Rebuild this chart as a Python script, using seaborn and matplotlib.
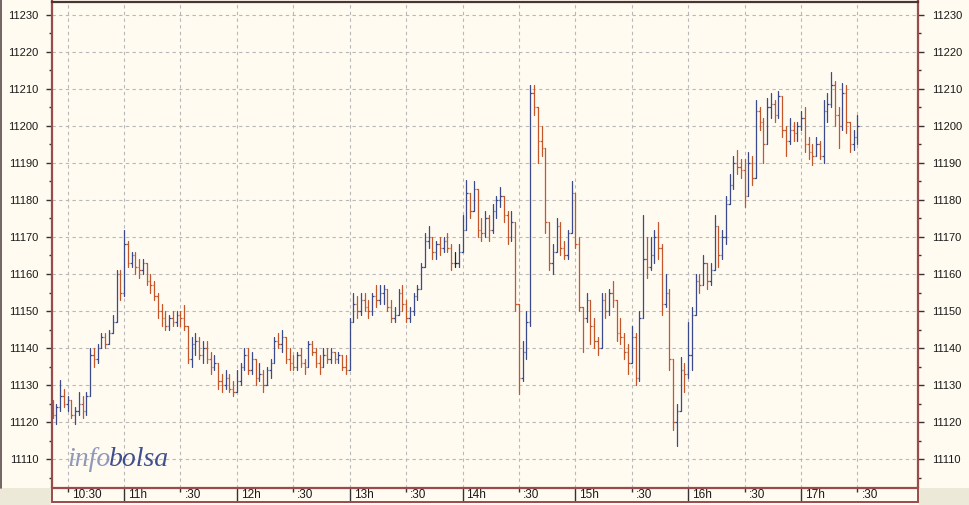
"""
Intraday OHLC bar chart (2-minute bars), infobolsa style.
Saves out.png at 970x505.
"""
import numpy as np
import pandas as pd
import matplotlib
matplotlib.use("Agg")
import matplotlib.pyplot as plt
import matplotlib.transforms as mtransforms
from matplotlib.patches import Rectangle
from matplotlib.lines import Line2D
from matplotlib.ticker import MultipleLocator, FixedLocator, FormatStrFormatter
import seaborn as sns

# --- data: 2-minute bars from 10:22 to 17:30, one row per half hour ---
first_open = 11125
bar_start_min = 22          # minutes after 10:00 of the first bar
bar_step_min = 2

highs = [
    11126, 11125, 11131.5, 11129,
    11127, 11126, 11124, 11128, 11127, 11128, 11140, 11140, 11141, 11144, 11144, 11145, 11149, 11161, 11161,
    11172, 11169, 11166, 11166, 11164, 11164, 11163, 11160, 11158, 11155, 11152, 11150, 11149, 11150, 11150,
    11150, 11151.5, 11146, 11143, 11144, 11143, 11142, 11142, 11139, 11138, 11136, 11133, 11134, 11133, 11131,
    11134, 11136, 11140, 11140, 11139, 11137, 11136, 11134, 11135, 11137, 11143, 11144, 11145, 11143, 11140,
    11138, 11139, 11140, 11137, 11142, 11142, 11140, 11138, 11140, 11140, 11140, 11139, 11139, 11138, 11138,
    11148, 11155, 11154, 11155, 11155, 11153, 11155, 11157, 11157, 11157, 11156, 11153, 11151, 11156, 11157,
    11153, 11151, 11155, 11157, 11163, 11171, 11173, 11170, 11169, 11170, 11170, 11171, 11168, 11166, 11168,
    11176, 11185.5, 11182, 11185, 11183, 11175, 11177, 11176, 11179, 11181, 11183.5, 11181, 11177, 11177, 11174,
    11152, 11142, 11150, 11211, 11211, 11205, 11200, 11194, 11174, 11168, 11175, 11174, 11169, 11172, 11185,
    11178, 11170, 11151, 11155, 11153, 11148, 11143, 11155, 11155, 11156, 11158, 11153, 11148, 11144, 11141,
    11146, 11144, 11150, 11176, 11170, 11170, 11172, 11174, 11168, 11160, 11156, 11137, 11125, 11137.5, 11136,
    11147, 11151, 11160, 11160, 11165, 11163, 11163, 11176, 11173, 11172, 11181, 11187, 11192, 11193.5, 11191,
    11191, 11193, 11192, 11207, 11205, 11202, 11207.5, 11209, 11207, 11209.5, 11208, 11200, 11202, 11201, 11201,
    11204, 11205, 11197, 11195, 11197, 11196, 11207, 11209, 11214.5, 11212, 11205, 11211.5, 11211, 11201, 11199,
    11203,
]
lows = [
    11121, 11119.5, 11123, 11124,
    11123, 11121, 11119.5, 11122, 11121, 11122, 11127, 11135, 11136, 11140, 11140, 11141, 11144, 11147, 11153,
    11154, 11162, 11162, 11160, 11159, 11160, 11157, 11155, 11153, 11148, 11146, 11145, 11145, 11146, 11146,
    11146, 11145, 11136, 11135, 11138, 11137, 11136, 11136, 11133, 11134, 11129, 11128, 11129, 11128, 11127,
    11128, 11130, 11134, 11133, 11133, 11130, 11131, 11128, 11130, 11132, 11136, 11140, 11139, 11136, 11134,
    11134, 11134, 11135, 11133, 11135, 11138, 11135, 11133, 11135, 11136, 11136, 11136, 11136, 11134, 11133,
    11134, 11147, 11148, 11149, 11150, 11148, 11149, 11151, 11152, 11152, 11150, 11147, 11147, 11149, 11150,
    11147, 11147, 11149, 11153, 11156, 11162, 11167, 11164, 11164, 11165, 11166, 11166, 11161, 11162, 11162,
    11166, 11172, 11175, 11177, 11170, 11169, 11170, 11169, 11171, 11175, 11178, 11174, 11168, 11169, 11150,
    11127.5, 11131, 11137, 11146, 11203, 11190, 11192, 11171, 11161, 11160, 11166, 11165, 11164, 11164, 11171,
    11167, 11150, 11139, 11147, 11141, 11140, 11138, 11140, 11148, 11149, 11151, 11142, 11141, 11137, 11133,
    11136, 11130, 11131, 11152, 11159, 11161, 11163, 11164, 11149, 11151, 11134, 11118, 11113.5, 11123, 11128,
    11132, 11134, 11150, 11155, 11157, 11156, 11157, 11161, 11162, 11164, 11168, 11179, 11183, 11187, 11186,
    11178, 11181, 11184, 11186, 11199, 11190, 11195, 11202, 11201, 11202, 11197, 11192, 11195, 11196, 11196,
    11199, 11193, 11191, 11189.5, 11192, 11191, 11190, 11201, 11205, 11200, 11194, 11199, 11198, 11193, 11193.5,
    11195,
]
closes = [
    11122, 11124, 11127, 11125,
    11126, 11122, 11123, 11125, 11123, 11127, 11138, 11137, 11140, 11143, 11141, 11144, 11147, 11160, 11155,
    11168, 11163, 11165, 11162, 11161, 11163, 11158, 11157, 11154, 11150, 11148, 11146, 11148, 11147, 11149,
    11148, 11146, 11137, 11141, 11142, 11138, 11140, 11137, 11135, 11136, 11131, 11130, 11132, 11129, 11128,
    11131, 11135, 11138, 11134, 11137, 11132, 11133, 11130, 11134, 11136, 11142, 11141, 11143, 11137, 11136,
    11135, 11138, 11136, 11135, 11141, 11139, 11136, 11135, 11138, 11137, 11139, 11137, 11138, 11135, 11134,
    11147, 11152, 11150, 11153, 11151, 11150, 11154, 11153, 11155, 11156, 11151, 11148, 11149, 11155, 11152,
    11148, 11150, 11154, 11156, 11162, 11169, 11170, 11166, 11168, 11167, 11169, 11167, 11163, 11163, 11166,
    11172, 11182, 11177, 11183, 11172, 11171, 11175, 11172, 11177, 11180, 11181, 11176, 11170, 11174, 11152,
    11132, 11139, 11147, 11209, 11205, 11196, 11194, 11174, 11163, 11166, 11173, 11167, 11165, 11171, 11182,
    11168, 11151, 11148, 11153, 11146, 11142, 11140, 11153, 11150, 11155, 11153, 11144, 11143, 11139, 11136,
    11143, 11132, 11148, 11164, 11162, 11165, 11170, 11167, 11152, 11155, 11137, 11120, 11123, 11134, 11133,
    11138, 11149, 11158, 11157, 11163, 11158, 11161, 11173, 11165, 11170, 11179, 11184, 11190, 11189, 11188,
    11181, 11190, 11186, 11204, 11201, 11195, 11205, 11206, 11203, 11208, 11199, 11196, 11199, 11198, 11200,
    11202, 11195, 11193, 11192, 11195, 11192, 11204, 11206, 11211, 11203, 11200, 11209, 11201, 11195, 11197,
    11200,
]

tick_labels = ["10:30", "11h", ":30", "12h", ":30", "13h", ":30", "14h", ":30",
               "15h", ":30", "16h", ":30", "17h", ":30"]

CREAM = "#FFFBF0"
PANEL_GRAY = "#ECE9D8"
FRAME = "#9A4B4B"
BLUE = "#3B4A8C"
ORANGE = "#C4562A"
BLACK = "#222222"
GRID = "#B8B8B8"


def main():
    sns.set_style("white")
    plt.rcParams["font.family"] = ["Liberation Sans", "DejaVu Sans"]

    closes_a = np.array(closes, dtype=float)
    opens_a = np.concatenate([[first_open], closes_a[:-1]])
    hi = np.maximum(np.array(highs, dtype=float), np.maximum(opens_a, closes_a))
    lo = np.minimum(np.array(lows, dtype=float), np.minimum(opens_a, closes_a))
    n = len(closes_a)
    times = bar_start_min + bar_step_min * np.arange(n)
    direction = np.where(closes_a > opens_a, "up",
                         np.where(closes_a < opens_a, "down", "flat"))
    palette = {"up": BLUE, "down": ORANGE, "flat": BLACK}
    colors = [palette[d] for d in direction]

    wicks = pd.DataFrame({
        "t": np.repeat(times, 2),
        "price": np.column_stack([lo, hi]).ravel(),
        "bar": np.repeat(np.arange(n), 2),
        "dir": np.repeat(direction, 2),
    })

    fig = plt.figure(figsize=(9.7, 5.05), dpi=100, facecolor=CREAM)
    ax = fig.add_axes([52 / 970, 17 / 505, 866 / 970, 486.5 / 505])
    ax.set_facecolor(CREAM)

    sns.lineplot(data=wicks, x="t", y="price", units="bar", estimator=None,
                 hue="dir", palette=palette, legend=False, linewidth=0.9,
                 sort=False, ax=ax)
    ax.hlines(opens_a, times - 0.8, times, colors=colors, linewidth=0.9)
    ax.hlines(closes_a, times, times + 0.8, colors=colors, linewidth=0.9)

    # axes ranges
    ax.set_xlim(21.7, 482.2)
    ax.set_ylim(11102.2, 11233.6)
    ax.set_xlabel("")
    ax.set_ylabel("")

    # y axis: labels both sides
    ax.yaxis.set_major_locator(MultipleLocator(10))
    ax.yaxis.set_minor_locator(MultipleLocator(5))
    ax.yaxis.set_major_formatter(FormatStrFormatter("%d"))
    ax.tick_params(axis="y", which="both", left=True, right=True,
                   labelleft=True, labelright=True, direction="out",
                   colors="#333333", labelcolor="#1A1A1A", labelsize=8)
    ax.tick_params(axis="y", which="major", length=4.5, width=1, pad=5.5)
    ax.tick_params(axis="y", which="minor", length=2, width=1)

    # x axis: hours long ticks, half hours short ticks, labels drawn as text
    hour_pos = [60, 120, 180, 240, 300, 360, 420]
    half_pos = [30, 90, 150, 210, 270, 330, 390, 450]
    ax.xaxis.set_major_locator(FixedLocator(hour_pos))
    ax.xaxis.set_minor_locator(FixedLocator(half_pos))
    ax.tick_params(axis="x", which="both", bottom=True, labelbottom=False,
                   direction="out", colors="#333333")
    ax.tick_params(axis="x", which="major", length=10, width=1)
    ax.tick_params(axis="x", which="minor", length=3, width=1)

    label_pos = sorted(hour_pos + half_pos)
    trans = mtransforms.blended_transform_factory(ax.transData, ax.transAxes)
    trans = mtransforms.offset_copy(trans, fig=fig, x=4, y=0, units="dots")
    for pos, lab in zip(label_pos, tick_labels):
        ax.text(pos, -0.0154, lab, transform=trans, ha="left", va="center",
                fontsize=8.5, color="#1A1A1A", clip_on=False)

    # dashed grid
    ax.grid(False)
    ax.grid(True, axis="y", which="major", color=GRID, linestyle=(0, (3, 3)),
            linewidth=0.8)
    ax.grid(True, axis="x", which="both", color=GRID, linestyle=(0, (3, 3)),
            linewidth=0.8)
    ax.set_axisbelow(True)

    for side in ["left", "right", "bottom"]:
        ax.spines[side].set_color(FRAME)
        ax.spines[side].set_linewidth(1.6)
    ax.spines["top"].set_color("#4A3434")
    ax.spines["top"].set_linewidth(1.6)

    # label strip under the x axis and the grey panel corners
    px = mtransforms.Affine2D().scale(1.0)
    fig.patches.append(Rectangle((0, 0), 51, 17, transform=px,
                                 facecolor=PANEL_GRAY, edgecolor="none", zorder=0))
    fig.patches.append(Rectangle((919, 0), 51, 17, transform=px,
                                 facecolor=PANEL_GRAY, edgecolor="none", zorder=0))
    fig.patches.append(Rectangle((52, 3), 866, 14, transform=px,
                                 facecolor="none", edgecolor=FRAME,
                                 linewidth=1.4, zorder=1))
    fig.lines.append(Line2D([0.5, 0.5], [17, 505], transform=px,
                            color="#5A4A4A", linewidth=1.2))

    # watermark
    fig.text(67 / 970, 39 / 505, "info", family=["Liberation Serif", "DejaVu Serif"],
             style="italic", fontsize=20, color="#9098BC", va="baseline")
    fig.text(109 / 970, 39 / 505, "bolsa", family=["Liberation Serif", "DejaVu Serif"],
             style="italic", fontsize=20, color="#3F4E8E", va="baseline")

    fig.savefig("out.png", dpi=100, facecolor=CREAM)


if __name__ == "__main__":
    main()
